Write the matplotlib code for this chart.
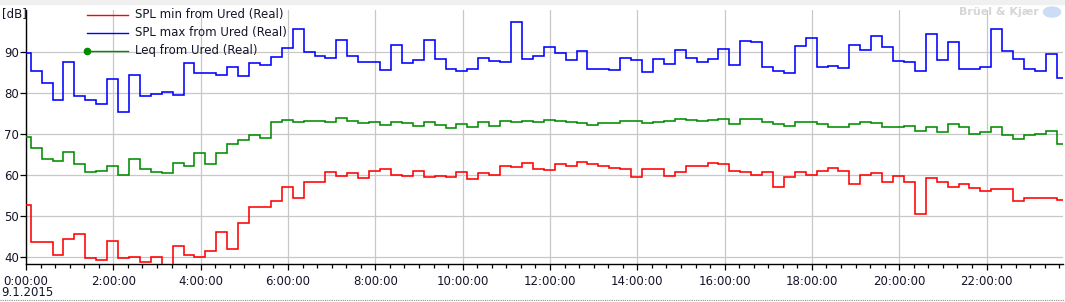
#--Recreate the 24 h noise log (SPL min / max / Leq, 15 min steps)

import numpy as np
import matplotlib.pyplot as plt
from matplotlib.ticker import MultipleLocator, FixedLocator, FuncFormatter
from matplotlib.lines import Line2D
from matplotlib.patches import Rectangle, Ellipse

#--Time base: 15 min intervals, first one starts 8.5 min before midnight (hours)
t_start = -8.5/60.
dt = 0.25

#--Values [dB]
spl_min = [52.9, 43.7, 43.7, 40.5, 44.4, 45.6, 39.8, 39.3, 43.9, 39.8,
           40.0, 39.0, 40.0, 37.0, 42.9, 40.7, 40.0, 41.5, 46.3, 42.0,
           48.5, 52.4, 52.2, 53.7, 57.1, 54.4, 58.3, 58.3, 60.7, 59.8,
           60.5, 59.3, 61.0, 61.5, 60.0, 59.8, 61.0, 59.5, 59.8, 59.5,
           60.7, 59.0, 60.5, 60.2, 62.4, 62.0, 62.9, 61.5, 61.2, 62.7,
           62.4, 63.2, 62.7, 62.2, 61.7, 61.5, 59.5, 61.5, 61.5, 59.8,
           60.7, 62.4, 62.2, 62.9, 62.7, 61.0, 60.7, 60.2, 60.7, 57.1,
           59.5, 60.7, 60.2, 61.0, 61.7, 61.0, 57.8, 60.2, 60.5, 58.3,
           59.8, 58.5, 50.7, 59.3, 58.3, 57.1, 57.8, 56.8, 56.3, 56.6,
           56.6, 53.7, 54.4, 54.6, 54.4, 54.1]
spl_max = [89.8, 85.4, 82.4, 78.4, 87.6, 79.3, 78.4, 77.5, 83.4, 75.4,
           84.4, 79.3, 79.8, 80.2, 79.5, 87.3, 84.9, 84.9, 84.4, 86.3,
           84.1, 87.3, 86.8, 88.8, 91.0, 95.6, 90.0, 89.0, 88.5, 92.9,
           89.0, 87.6, 87.6, 85.6, 91.7, 87.4, 88.0, 92.9, 88.3, 85.9,
           85.4, 85.9, 88.5, 87.8, 87.6, 97.3, 88.3, 89.0, 91.2, 89.8,
           88.0, 90.2, 85.9, 85.9, 85.6, 88.5, 88.0, 85.1, 88.3, 87.1,
           90.5, 88.5, 87.6, 88.3, 90.7, 86.8, 92.7, 92.4, 86.3, 85.4,
           84.9, 91.5, 93.4, 86.3, 86.6, 86.1, 91.7, 90.5, 93.9, 91.2,
           87.8, 87.6, 85.4, 94.4, 88.0, 92.4, 85.9, 85.9, 86.3, 95.6,
           90.2, 88.3, 85.9, 85.4, 89.5, 83.7]
leq = [69.3, 66.7, 64.1, 63.4, 65.6, 62.7, 60.7, 61.0, 62.2, 60.0,
       63.9, 61.5, 60.7, 60.5, 62.9, 62.2, 65.4, 62.7, 65.4, 67.6,
       68.5, 69.8, 69.0, 72.9, 73.4, 72.9, 73.2, 73.2, 72.9, 73.9,
       73.2, 72.7, 72.9, 72.2, 72.9, 72.7, 72.0, 72.9, 72.2, 71.5,
       72.4, 71.7, 72.9, 72.0, 73.2, 72.9, 73.2, 72.9, 73.4, 73.2,
       72.9, 72.7, 72.2, 72.7, 72.7, 73.2, 73.2, 72.7, 72.9, 73.2,
       73.7, 73.4, 73.2, 73.4, 73.7, 72.4, 73.7, 73.7, 72.9, 72.4,
       72.0, 72.9, 72.9, 72.4, 71.7, 71.7, 72.4, 72.9, 72.7, 71.7,
       71.7, 72.0, 70.7, 71.7, 70.5, 72.4, 71.7, 70.2, 70.5, 71.7,
       69.8, 68.8, 69.8, 70.0, 70.7, 67.6]

names = ["SPL min from Ured (Real)", "SPL max from Ured (Real)", "Leq from Ured (Real)"]
colors = ["#ff0000", "#0000ff", "#008c00"]
y_ticks = [40, 50, 60, 70, 80, 90]
date_label = "9.1.2015"

txt = "#141428"
plt.rcParams['font.family'] = 'DejaVu Sans'
plt.rcParams['font.size'] = 8

W, H = 1065, 302
fig = plt.figure(figsize=(W/100., H/100.), dpi=100)
ax = fig.add_axes([26./W, 38./H, (1063.-26.)/W, (264.-10.)/H])

#--Step curves
edges = t_start + dt*np.arange(len(spl_min)+1)
for vals, c in zip([spl_min, spl_max, leq], colors):
  ax.stairs(vals, edges, baseline=None, color=c, lw=1.15, zorder=3)

ax.set_xlim(0, 23.75)
ax.set_ylim(38.4, 100.3)

#--Axes, ticks, grid
ax.xaxis.set_major_locator(MultipleLocator(2))
ax.xaxis.set_minor_locator(MultipleLocator(1/3.))
ax.xaxis.set_major_formatter(FuncFormatter(lambda h, p: "%d:00:00" % round(h)))
ax.yaxis.set_major_locator(FixedLocator(y_ticks))
ax.grid(True, which='major', color='#c8c8c8', lw=0.9, zorder=0)
for s in ['top', 'right']:
  ax.spines[s].set_visible(False)
for s in ['left', 'bottom']:
  ax.spines[s].set_color('black')
  ax.spines[s].set_linewidth(1.0)
ax.tick_params(axis='x', which='major', length=4, width=0.9, colors='black', labelcolor=txt, pad=4, labelsize=8.5)
ax.tick_params(axis='x', which='minor', length=3, width=0.9, colors='black')
ax.tick_params(axis='y', which='major', length=4, width=0.9, colors='black', labelcolor=txt, pad=1, labelsize=8.5)
ax.set_facecolor('white')

#--Texts
fig.text(2./W, 1-14./H, "[dB]", ha='left', va='center', color=txt, fontsize=8.5)
fig.text(1./W, 1-293./H, date_label, ha='left', va='center', color=txt, fontsize=8.5)

#--Legend (drawn by hand, marker only at the left end of the Leq line)
for i, (n, c) in enumerate(zip(names, colors)):
  yy = 1-(14.5+18*i)/H
  fig.add_artist(Line2D([87./W, 128./W], [yy, yy], color=c, lw=1.0))
  if i == 2:
    fig.add_artist(Line2D([87./W], [yy], color=c, marker='o', ms=4.5, mec=c))
  fig.text(135./W, yy, n, ha='left', va='center', color=txt, fontsize=8.5)

#--Top band, bottom dotted line and watermark
fig.add_artist(Rectangle((0, 1-4./H), 1, 4./H, transform=fig.transFigure, color='#f0f0f0', zorder=0))
fig.add_artist(Line2D([0, 1], [2./H, 2./H], color='#909090', lw=0.8, ls=(0, (1, 1))))
fig.text(1039./W, 1-12./H, "Brüel & Kjær", ha='right', va='center', color='#d6d6d6',
         fontsize=8, fontweight='bold')
fig.add_artist(Ellipse((1052./W, 1-12./H), 17./W, 10./H, transform=fig.transFigure, color='#cbdcf4'))

fig.savefig("out.png", dpi=100)
